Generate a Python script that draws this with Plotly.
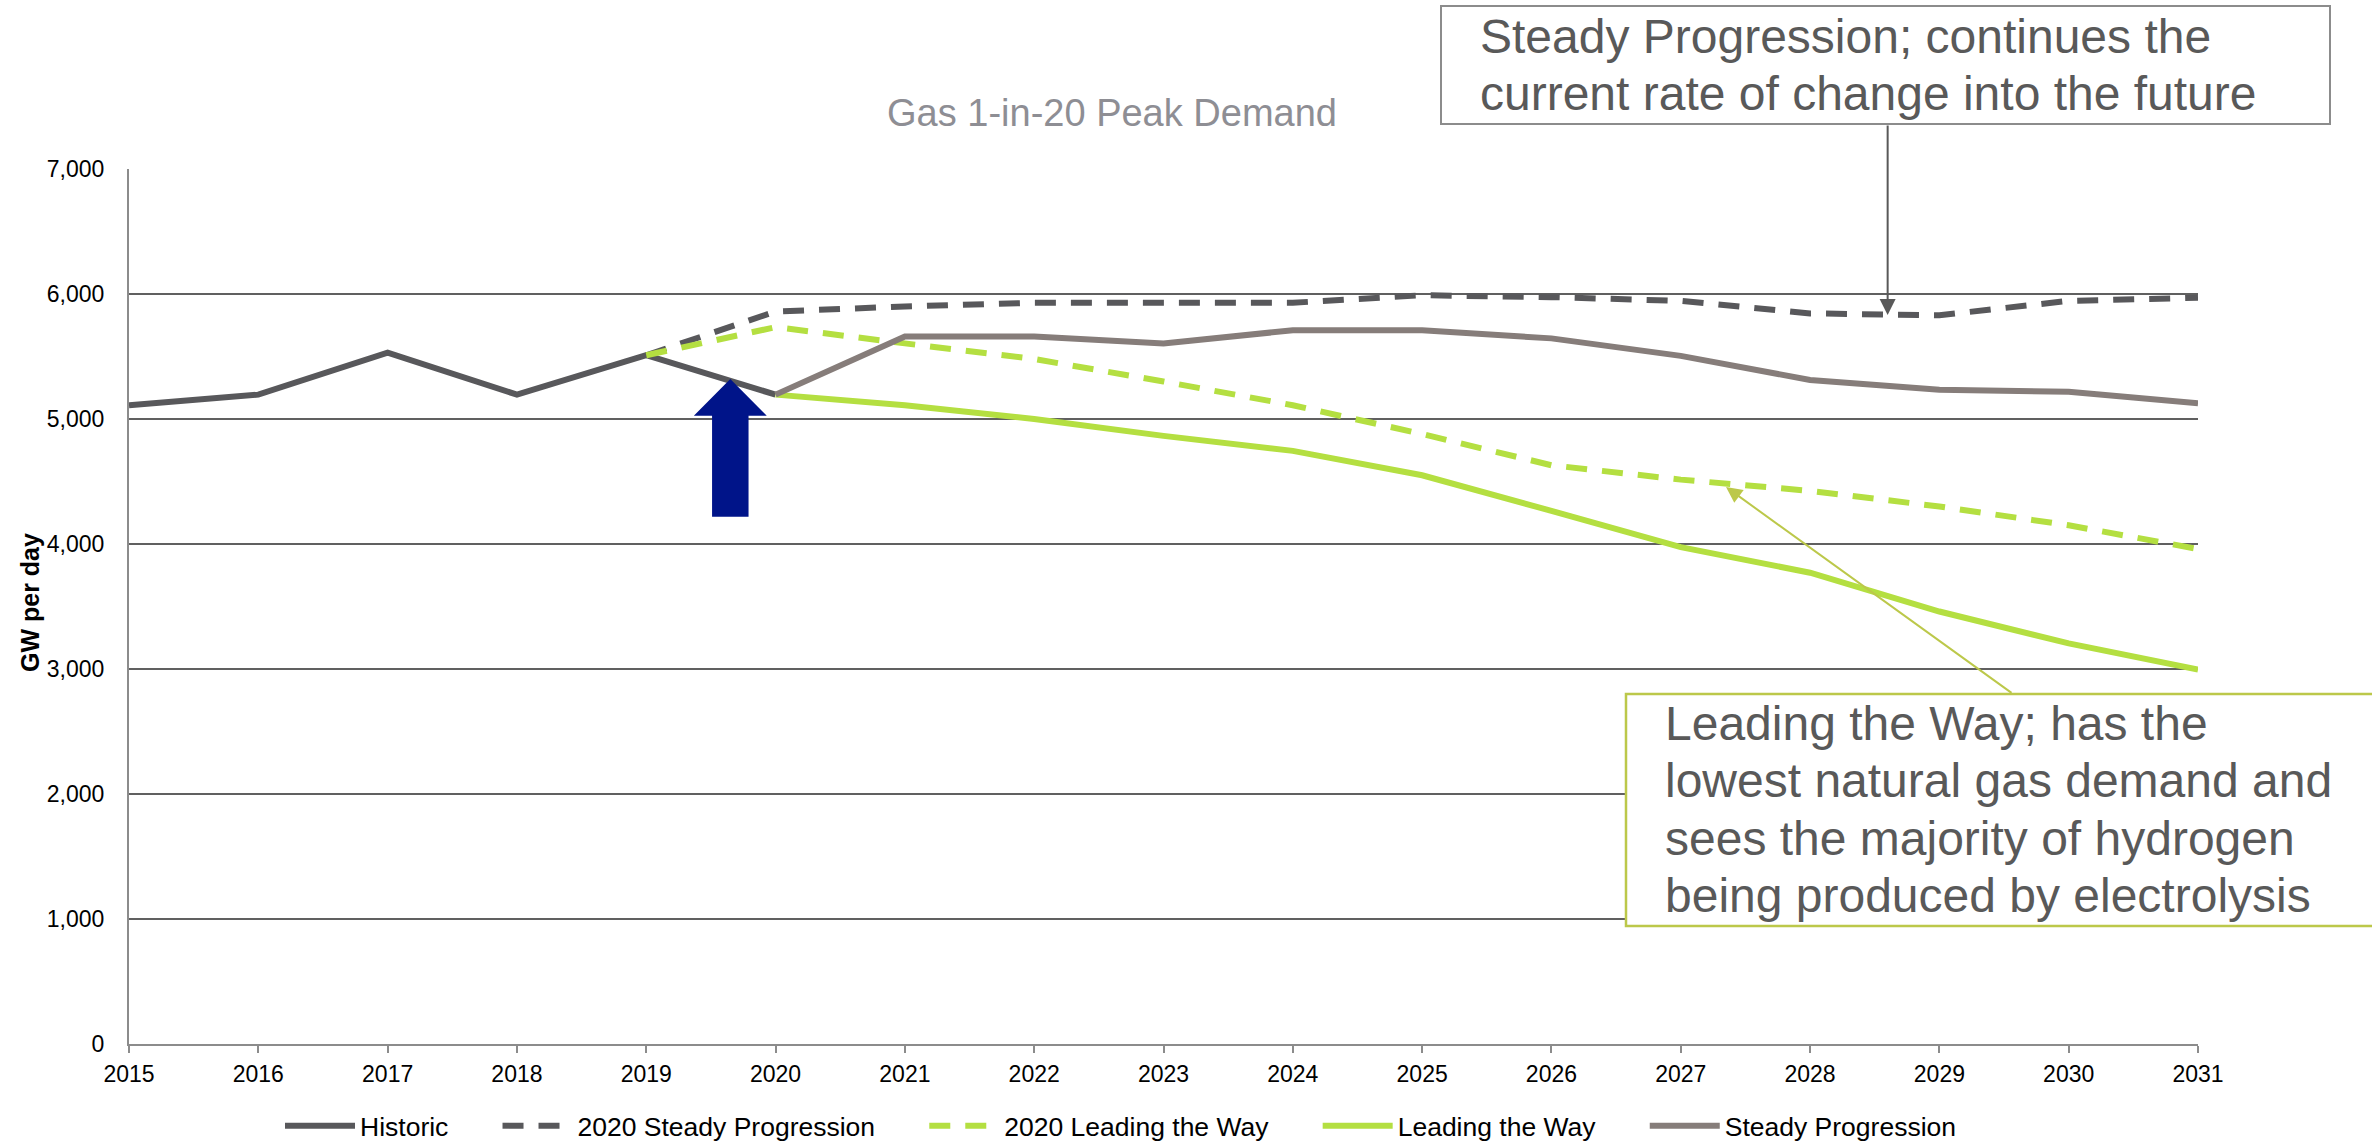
import plotly.graph_objects as go

# ---------------- data ----------------
historic_years = [2015, 2016, 2017, 2018, 2019, 2020]
historic = [5110, 5195, 5530, 5195, 5510, 5195]

proj2020_years = list(range(2019, 2032))
sp_2020 = [5510, 5860, 5900, 5930, 5930, 5930, 5990, 5975, 5945, 5845, 5830, 5945, 5970]
ltw_2020 = [5510, 5735, 5605, 5480, 5300, 5110, 4880, 4630, 4515, 4425, 4300, 4150, 3960]

proj_years = list(range(2020, 2032))
ltw = [5195, 5110, 5000, 4865, 4745, 4550, 4265, 3975, 3770, 3460, 3205, 2995]
sp = [5195, 5660, 5660, 5605, 5710, 5710, 5645, 5505, 5312, 5235, 5218, 5125]

x_ticks = list(range(2015, 2032))
y_ticks = [0, 1000, 2000, 3000, 4000, 5000, 6000, 7000]

series_names = ["Historic", "2020 Steady Progression", "2020 Leading the Way",
                "Leading the Way", "Steady Progression"]
title_text = "Gas 1-in-20 Peak Demand"
y_title = "GW per day"
note_sp_lines = ["Steady Progression; continues the", "current rate of change into the future"]
note_ltw_lines = ["Leading the Way; has the", "lowest natural gas demand and",
                  "sees the majority of hydrogen", "being produced by electrolysis"]

# ---------------- style ----------------
FONT = "Liberation Sans, Arial, sans-serif"
DARK = "#58585b"
GREEN = "#b4df41"
SPGREY = "#867d7a"
GRID = "#606060"
NAVY = "#001489"
OLIVE = "#bcc84a"
NOTE = "#595959"
NOTE_SIZE = 48

W, H = 2372, 1144
ML, MR, MT, MB = 129, 174, 169, 100
PW, PH = W - ML - MR, H - MT - MB


def px_to_paper(px, py):
    return (px - ML) / PW, (H - MB - py) / PH


PAD = "\u00a0" * 6
legend_names = [n + PAD for n in series_names[:-1]] + [series_names[-1]]

fig = go.Figure()
fig.add_trace(go.Scatter(x=historic_years, y=historic, mode="lines", name=legend_names[0],
                         line=dict(color=DARK, width=6)))
fig.add_trace(go.Scatter(x=proj2020_years, y=sp_2020, mode="lines", name=legend_names[1],
                         line=dict(color=DARK, width=6, dash="21px,15px")))
fig.add_trace(go.Scatter(x=proj2020_years, y=ltw_2020, mode="lines", name=legend_names[2],
                         line=dict(color=GREEN, width=6, dash="21px,15px")))
fig.add_trace(go.Scatter(x=proj_years, y=ltw, mode="lines", name=legend_names[3],
                         line=dict(color=GREEN, width=6)))
fig.add_trace(go.Scatter(x=proj_years, y=sp, mode="lines", name=legend_names[4],
                         line=dict(color=SPGREY, width=6)))

# blue block arrow (decoration, in data coordinates)
ARROW_X, ARROW_TIP, ARROW_NECK, ARROW_BASE = 2019.65, 5320, 5026, 4218
HEAD_HALF, SHAFT_HALF = 0.282, 0.141
path = (f"M{ARROW_X - SHAFT_HALF},{ARROW_BASE} L{ARROW_X - SHAFT_HALF},{ARROW_NECK} "
        f"L{ARROW_X - HEAD_HALF},{ARROW_NECK} L{ARROW_X},{ARROW_TIP} "
        f"L{ARROW_X + HEAD_HALF},{ARROW_NECK} L{ARROW_X + SHAFT_HALF},{ARROW_NECK} "
        f"L{ARROW_X + SHAFT_HALF},{ARROW_BASE} Z")
fig.add_shape(type="path", path=path, xref="x", yref="y", fillcolor=NAVY, line=dict(width=0))

# annotation boxes
bx0, by1 = px_to_paper(1441, 6)
bx1, by0 = px_to_paper(2330, 124)
fig.add_shape(type="rect", xref="paper", yref="paper", x0=bx0, x1=bx1, y0=by0, y1=by1,
              line=dict(color="#8c8c8c", width=2), fillcolor="white", layer="above")
for line, base in zip(note_sp_lines, [53, 110]):
    tx, ty = px_to_paper(1479, base - 0.3465 * NOTE_SIZE)
    fig.add_annotation(xref="paper", yref="paper", x=tx, y=ty, xanchor="left", yanchor="middle",
                       text=line, showarrow=False, align="left", borderpad=0,
                       font=dict(family=FONT, size=NOTE_SIZE, color=NOTE))

cx0, cy1 = px_to_paper(1626, 694)
cx1, cy0 = px_to_paper(2385, 926)
fig.add_shape(type="rect", xref="paper", yref="paper", x0=cx0, x1=cx1, y0=cy0, y1=cy1,
              line=dict(color=OLIVE, width=2.5), fillcolor="white", layer="above")
for line, base in zip(note_ltw_lines, [740, 797, 855, 912]):
    tx, ty = px_to_paper(1664, base - 0.3465 * NOTE_SIZE)
    fig.add_annotation(xref="paper", yref="paper", x=tx, y=ty, xanchor="left", yanchor="middle",
                       text=line, showarrow=False, align="left", borderpad=0,
                       font=dict(family=FONT, size=NOTE_SIZE, color=NOTE))

# pointer arrows
fig.add_annotation(x=2028.6, y=5832, xref="x", yref="y", ax=0, ay=-191, text="",
                   showarrow=True, arrowhead=2, arrowsize=1.6, arrowwidth=2, arrowcolor=NOTE)
fig.add_annotation(x=2027.35, y=4456, xref="x", yref="y", ax=287, ay=207, text="",
                   showarrow=True, arrowhead=2, arrowsize=1.6, arrowwidth=2, arrowcolor=OLIVE)

# y-axis title placed explicitly
yx, yy = px_to_paper(30, 603)
fig.add_annotation(xref="paper", yref="paper", x=yx, y=yy, xanchor="center", yanchor="middle",
                   text=y_title, textangle=-90, showarrow=False,
                   font=dict(family=FONT, size=25, color="black", weight="bold"))

lx, ly = px_to_paper(1121, 1126)
fig.update_layout(
    width=W, height=H,
    margin=dict(l=ML, r=MR, t=MT, b=MB, autoexpand=False),
    paper_bgcolor="white", plot_bgcolor="white",
    font=dict(family=FONT, color="black"),
    title=dict(text=title_text, x=1112 / W, y=1 - 113 / H, xanchor="center", yanchor="middle",
               xref="container", yref="container",
               font=dict(family=FONT, size=38, color="#8e8e94")),
    showlegend=True,
    legend=dict(orientation="h", x=lx, y=ly, xanchor="center", yanchor="middle",
                font=dict(family=FONT, size=26.5, color="black"), itemwidth=70,
                bgcolor="rgba(0,0,0,0)"),
    xaxis=dict(range=[2015, 2031], tickvals=x_ticks, ticktext=[str(v) for v in x_ticks],
               showgrid=False, zeroline=False, showline=True, linecolor="#8c8c8c", linewidth=2,
               ticks="outside", ticklen=7, tickcolor="#8c8c8c", tickwidth=2,
               tickfont=dict(family=FONT, size=23, color="black"), ticklabelstandoff=1),
    yaxis=dict(range=[0, 7000], tickvals=y_ticks, tickformat=",", showgrid=True,
               gridcolor=GRID, gridwidth=2, zeroline=False, showline=True,
               linecolor="#8c8c8c", linewidth=2,
               tickfont=dict(family=FONT, size=23, color="black"), ticklabelstandoff=18),
)

fig.write_html("out.html", config={"responsive": False, "displayModeBar": False},
               post_script="document.body.style.margin='0';document.body.style.overflow='hidden';")
